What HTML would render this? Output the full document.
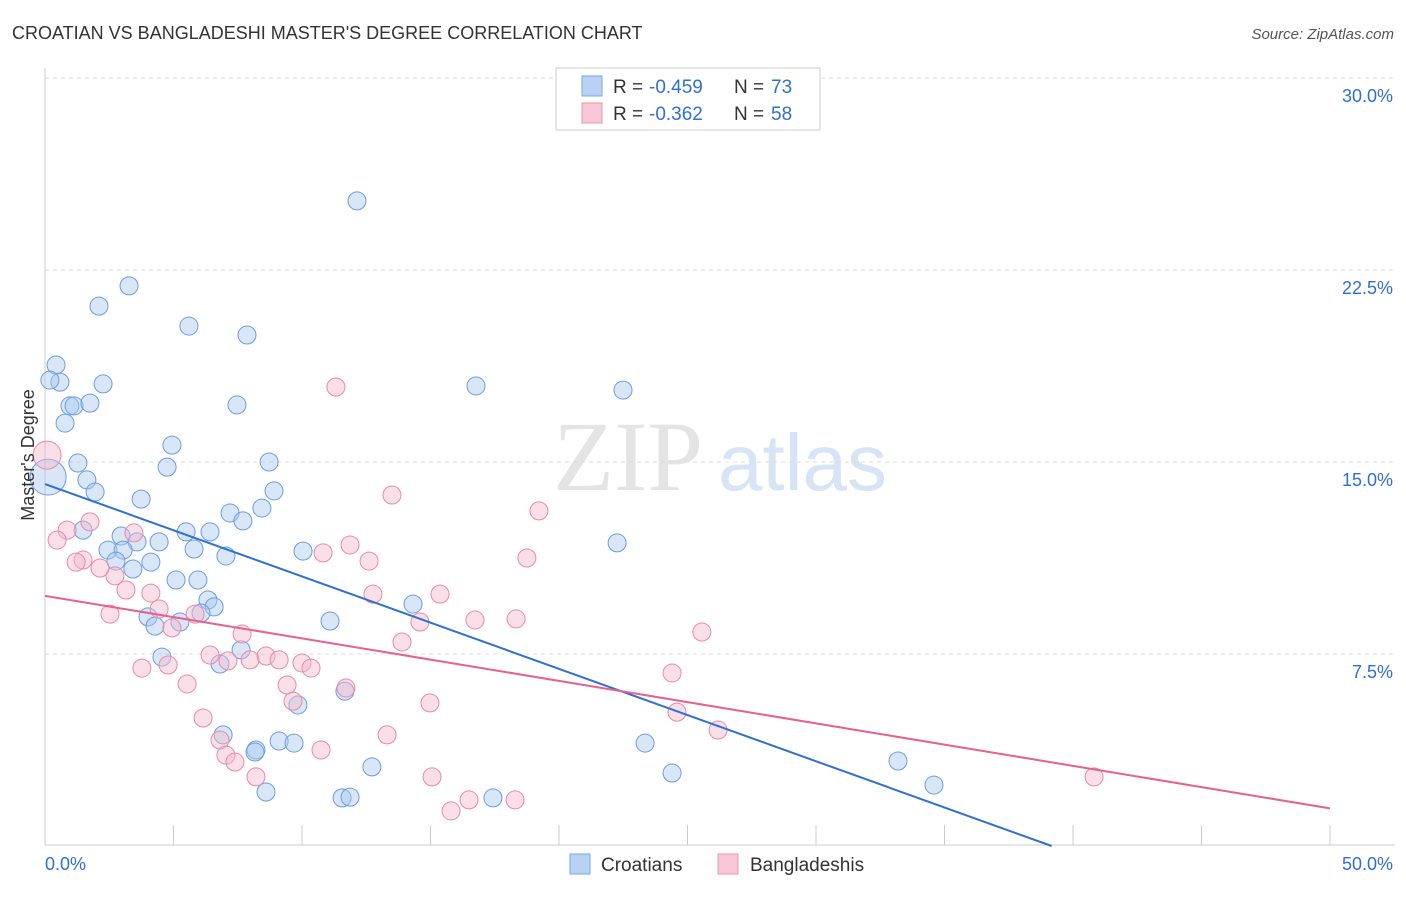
<!DOCTYPE html>
<html><head><meta charset="utf-8"><style>
body{margin:0;background:#fff;font-family:"Liberation Sans",sans-serif;}
svg text{font-family:"Liberation Sans",sans-serif;}
</style></head><body>
<svg id="c" width="1406" height="892" xmlns="http://www.w3.org/2000/svg">
<text x="12" y="39" font-size="18" fill="#333">CROATIAN VS BANGLADESHI MASTER'S DEGREE CORRELATION CHART</text>
<text x="1394" y="39" font-size="15" fill="#555" font-style="italic" text-anchor="end">Source: ZipAtlas.com</text>
<g>
<text x="553" y="490" font-size="100" fill="#e4e4e4" style="font-family:'Liberation Serif',serif">ZIP</text>
<text x="718" y="490" font-size="80" fill="#d6e4f5">atlas</text>
</g>
<g id="grid"></g>
<g id="axes"></g>
<g id="pts"></g>
<g id="trend"></g>
<g>
<rect x="556" y="68" width="264" height="62" fill="#fff" stroke="#ccc"/>
<rect x="582" y="76" width="20" height="20" fill="#b8d2f3" stroke="#7aa6e0"/>
<g font-size="19">
<text x="613" y="93" fill="#333">R =</text><text x="649" y="93" fill="#2f6fd6">-0.459</text>
<text x="734" y="93" fill="#333">N =</text><text x="771" y="93" fill="#2f6fd6">73</text></g>
<rect x="582" y="103" width="20" height="20" fill="#f8c6d6" stroke="#ea94b0"/>
<g font-size="19">
<text x="613" y="120" fill="#333">R =</text><text x="649" y="120" fill="#2f6fd6">-0.362</text>
<text x="734" y="120" fill="#333">N =</text><text x="771" y="120" fill="#2f6fd6">58</text></g>
</g>
<g>
<rect x="570" y="854" width="20" height="20" fill="#b8d2f3" stroke="#7aa6e0"/>
<text x="601" y="871" font-size="19" fill="#333">Croatians</text>
<rect x="718" y="854" width="20" height="20" fill="#f8c6d6" stroke="#ea94b0"/>
<text x="750" y="871" font-size="19" fill="#333">Bangladeshis</text>
</g>
<text transform="translate(34,455) rotate(-90)" font-size="18" fill="#333" text-anchor="middle">Master's Degree</text>
</svg>
<script>
const yTicks=[7.5,15,22.5,30];
const yTickLabels=["7.5%","15.0%","22.5%","30.0%"];
const xTickLabels=["0.0%","50.0%"];
const croX=[0.43,0.58,0.19,0.97,1.13,1.75,0.78,2.26,2.10,3.27,5.60,7.86,12.14,16.77,22.49,7.47,4.94,4.75,1.28,1.63,1.95,3.74,8.72,8.91,7.20,8.44,7.70,1.48,2.96,3.58,4.44,5.49,6.42,5.80,7.04,10.04,2.45,3.04,2.76,3.42,4.12,5.10,5.95,6.34,6.58,6.07,4.01,4.28,5.25,11.09,14.32,22.26,4.55,6.81,7.63,11.67,9.84,6.93,8.21,8.17,9.11,9.69,12.72,8.60,11.56,11.87,17.43,23.35,24.40,33.19,34.59,0.12];
const croY=[18.79,18.12,18.20,17.19,17.19,17.30,16.52,18.05,21.09,21.88,20.31,19.96,25.20,17.97,17.81,17.23,15.66,14.80,14.96,14.30,13.83,13.55,15.0,13.87,13.01,13.20,12.70,12.34,12.11,11.88,11.88,12.27,12.27,11.60,11.33,11.52,11.56,11.56,11.13,10.82,11.09,10.39,10.39,9.61,9.34,9.10,8.95,8.59,8.75,8.79,9.45,11.84,7.38,7.11,7.66,6.05,5.51,4.34,3.75,3.67,4.10,4.02,3.09,2.11,1.88,1.91,1.88,4.02,2.85,3.32,2.38,14.41];
const croBig=[71];
const banX=[0.08,11.32,13.50,19.22,18.75,1.75,0.86,0.47,1.48,1.21,3.46,2.72,2.14,3.15,4.12,2.53,4.44,4.94,5.84,7.67,10.82,11.87,12.61,12.76,15.37,14.59,16.73,18.33,25.56,13.89,3.77,4.79,5.53,6.42,7.12,7.98,8.60,9.11,10.0,10.35,9.42,11.71,9.65,14.98,24.40,24.59,26.19,6.15,6.81,7.04,7.39,8.21,10.74,13.31,15.06,16.50,15.80,18.29,40.82];
const banY=[15.27,17.93,13.71,13.09,11.25,12.66,12.34,11.95,11.17,11.09,12.23,10.55,10.86,10.00,9.88,9.06,9.26,8.52,9.06,8.28,11.45,11.76,11.13,9.84,9.84,8.75,8.83,8.87,8.36,7.97,6.95,7.07,6.33,7.46,7.23,7.27,7.42,7.27,7.15,6.95,6.29,6.17,5.66,5.59,6.76,5.23,4.53,5.0,4.14,3.55,3.28,2.70,3.75,4.34,2.70,1.80,1.37,1.80,2.70];
const banBig=[0];
const croTrend=[14.14,-0.361];
const banTrend=[9.77,-0.166];
const NS="http://www.w3.org/2000/svg";
const X=v=>45+v/50*1285, Y=v=>846-v/30*768;
function mk(t,a,p){const e=document.createElementNS(NS,t);for(const k in a)e.setAttribute(k,a[k]);p.appendChild(e);return e;}
const grid=document.getElementById('grid'),axes=document.getElementById('axes');
yTicks.forEach((t,i)=>{
 const l=mk('line',{x1:45,x2:1395,y1:Y(t),y2:Y(t),stroke:'#ddd','stroke-dasharray':'4,4'},grid);
 
 
 const tx=mk('text',{x:1393,y:Y(t)+24,'font-size':18,fill:'#2f6fd6','text-anchor':'end'},axes);
 tx.textContent=yTickLabels[i];
 
 
});
const xa=mk('line',{x1:45,x2:1395,y1:845,y2:845,stroke:'#ccc'},axes);


const ya=mk('line',{x1:45,x2:45,y1:68,y2:845,stroke:'#ccc'},axes);


for(let v=0;v<=50;v+=5){const t=mk('line',{x1:X(v),x2:X(v),y1:825,y2:845,stroke:'#ccc'},axes);
 
 }
[[0,45,'start'],[50,1393,'end']].forEach((d,i)=>{const t=mk('text',{x:d[1],y:870,'font-size':18,fill:'#2f6fd6','text-anchor':d[2]},axes);t.textContent=xTickLabels[i];
 
 });
const pts=document.getElementById('pts');
function series(xs,ys,big,bigR,fill,stroke,name){xs.forEach((x,i)=>{const c=mk('circle',{cx:X(x),cy:Y(ys[i]),r:big.includes(i)?bigR:9,fill:fill,'fill-opacity':0.45,stroke:stroke,'stroke-width':1},pts);
 
 });}
series(croX,croY,croBig,18,'#a9c8f0','#6a9ee0','croatian-point');
series(banX,banY,banBig,14,'#f5b8cc','#e88aa8','bangladeshi-point');
const tr=document.getElementById('trend');
const x1=(0-croTrend[0])/croTrend[1];
const l1=mk('line',{x1:X(0),y1:Y(croTrend[0]),x2:X(x1),y2:Y(0),stroke:'#2f6fd6','stroke-width':2},tr);


const l2=mk('line',{x1:X(0),y1:Y(banTrend[0]),x2:X(50),y2:Y(banTrend[0]+banTrend[1]*50),stroke:'#e8608c','stroke-width':2},tr);


</script>
</body></html>
